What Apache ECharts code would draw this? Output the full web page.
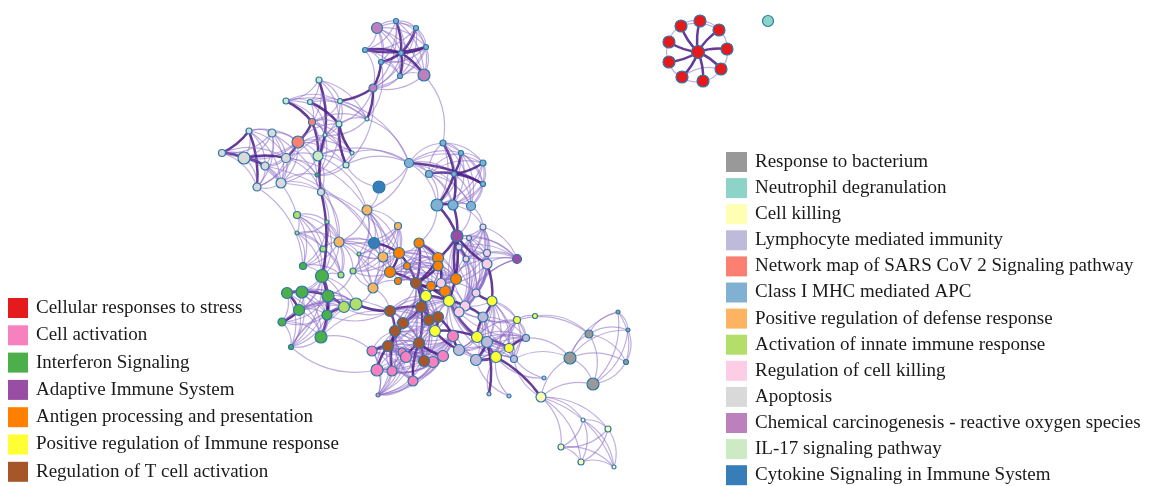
<!DOCTYPE html>
<html>
<head>
<meta charset="utf-8">
<script src="https://cdn.jsdelivr.net/npm/echarts@6/dist/echarts.min.js"></script>
<style>
  html, body { margin: 0; padding: 0; background: #fff; }
  #chart-container { width: 1154px; height: 486px; }
</style>
</head>
<body>
<div id="chart-container"></div>
<script>
// term categories (legend order) and their colours
var categoryNames = [
  "Cellular responses to stress", "Cell activation", "Interferon Signaling",
  "Adaptive Immune System", "Antigen processing and presentation",
  "Positive regulation of Immune response", "Regulation of T cell activation",
  "Response to bacterium", "Neutrophil degranulation", "Cell killing",
  "Lymphocyte mediated immunity", "Network map of SARS CoV 2 Signaling pathway",
  "Class I MHC mediated APC", "Positive regulation of defense response",
  "Activation of innate immune response", "Regulation of cell killing",
  "Apoptosis", "Chemical carcinogenesis - reactive oxygen species",
  "IL-17 signaling pathway", "Cytokine Signaling in Immune System"
];
var categoryColors = [
  "#e41a1c", "#f781bf", "#4daf4a", "#984ea3", "#ff7f00", "#ffff33", "#a65628",
  "#999999", "#8dd3c7", "#ffffb3", "#bebada", "#fb8072", "#80b1d3", "#fdb462",
  "#b3de69", "#fccde5", "#d9d9d9", "#bc80bd", "#ccebc5", "#377eb8"
];

// network terms per category: [id, layoutX, layoutY, termSize]
var stressNodes = [["r0",698,52,13],["r1",681,26,12],["r2",700,21,12],["r3",719,30,12],["r4",727,49,12],["r5",721,69,12],["r6",703,81,12],["r7",682,77,12],["r8",669,62,12],["r9",669,42,12]];
var cellActNodes = [["m0",453,336,11],["m1",372,351,10],["m2",402,352,8],["m3",406,357,11],["m4",433,362,11],["m5",443,356,11],["m6",377,370,12],["m7",392,371,10],["m8",413,381,10],["m9",378,395,4]];
var ifnNodes = [["g0",303,266,7],["g1",322,276,13],["g2",287,293,11],["g3",302,292,12],["g4",328,296,12],["g5",299,310,11],["g6",327,315,10],["g7",282,322,8],["g8",321,337,12],["g9",291,347,5],["b20",317,175,4]];
var adaptiveNodes = [["i0",457,236,12],["i1",517,259,9]];
var antigenNodes = [["h0",419,243,10],["h1",399,253,11],["h2",407,266,7],["h3",390,272,11],["h4",398,281,7],["h5",438,258,11],["h6",438,266,10],["h7",431,286,9],["h8",456,279,11],["h9",445,291,11]];
var posImmNodes = [["l0",426,296,11],["l1",449,301,11],["l2",492,301,10],["l3",435,331,11],["l4",477,337,11],["l5",496,357,11],["l6",509,348,9],["l7",517,320,7],["l8",535,316,5]];
var tCellNodes = [["k0",416,283,11],["k1",390,311,11],["k2",421,307,11],["k3",403,323,11],["k4",429,320,11],["k5",438,317,11],["k6",395,331,11],["k7",388,346,11],["k8",419,343,11],["k9",424,361,11]];
var bacteriumNodes = [["p0",570,358,12],["p1",589,334,8],["p2",618,312,4],["p3",628,330,4],["p4",626,362,5],["p5",593,384,12]];
var neutrophilNodes = [["t0",768,21,11]];
var killingNodes = [["o0",541,397,10],["o1",583,420,4],["o2",608,429,6],["o3",561,447,6],["o4",581,462,6],["o5",614,467,4]];
var lymphNodes = [["n0",483,317,10],["n1",487,342,11],["n2",459,350,11],["n3",476,360,11],["n4",514,359,7],["n5",526,338,7],["n6",544,378,4],["n7",489,394,4],["n8",509,396,4]];
var sarsNodes = [["b4",312,122,7],["b10",298,142,12]];
var mhcNodes = [["a1",396,21,5],["a2",416,28,5],["a3",426,47,5],["a4",365,50,5],["a5",401,53,5],["a6",381,62,5],["a7",400,76,5],["c0",409,163,9],["c1",429,174,7],["c2",443,143,6],["c3",461,153,5],["c4",483,163,6],["c5",454,174,5],["c6",483,184,5],["c7",437,205,12],["c8",453,205,10],["c9",471,206,9]];
var defenseNodes = [["e0",367,210,10],["e1",398,226,7],["e2",339,242,10],["e3",383,257,10],["e4",373,288,10]];
var innateNodes = [["f0",297,215,7],["f1",327,222,4],["f2",297,233,4],["f3",323,249,6],["f4",359,254,4],["f5",341,275,6],["f6",353,271,6],["f7",344,307,11],["f8",356,304,12]];
var killRegNodes = [["j0",483,227,6],["j1",469,238,5],["j2",459,247,6],["j3",466,259,6],["j4",487,253,7],["j5",487,264,10],["j6",441,283,9],["j7",476,293,8],["j8",465,306,10],["j9",459,312,10]];
var apoptosisNodes = [["b8",249,131,6],["b9",272,133,8],["b11",222,153,7],["b12",244,158,12],["b13",286,158,9],["b16",265,166,8],["b18",281,183,10],["b19",257,187,8],["b21",321,192,7]];
var chemNodes = [["a0",377,28,11],["a8",424,75,12],["a9",373,88,8]];
var il17Nodes = [["b0",319,80,6],["b1",286,101,6],["b2",310,102,5],["b3",340,101,5],["b5",339,124,6],["b6",367,119,4],["b7",325,135,4],["b14",318,156,10],["b15",352,153,4],["b17",346,165,6]];
var cytokineNodes = [["d0",379,187,12],["d1",374,243,11]];

var nodesByCategory = [
  stressNodes, cellActNodes, ifnNodes, adaptiveNodes, antigenNodes, posImmNodes,
  tCellNodes, bacteriumNodes, neutrophilNodes, killingNodes, lymphNodes, sarsNodes,
  mhcNodes, defenseNodes, innateNodes, killRegNodes, apoptosisNodes, chemNodes,
  il17Nodes, cytokineNodes
];

// groups of terms that are all similar to each other (every pair linked)
var similarGroups = [
  ["a0","a1","a2","a3","a4","a5","a6","a7","a8","a9"],
  ["b0","b1","b2","b3","b4","b5","b6","b7"],
  ["b4","b7","b10","b14","b15","b17","b5","b20"],
  ["b8","b9","b10","b11","b12","b13","b16","b18","b19"],
  ["b13","b14","b18","b21","b20","b7"],
  ["c0","c1","c2","c3","c4","c5","c6","c7","c8","c9"],
  ["f0","f1","f2","f3","e2","g0","g1","f5"],
  ["g1","g2","g3","g4","g5","g6","g7","g8","g9","f7","f8"],
  ["e0","e1","e2","e3","e4","d1","h1","h3","f4","f6"],
  ["h0","h1","h2","h3","h4","h5","h6","h7","h8","h9","k0"],
  ["k0","k1","k2","k3","k4","k5","k6","k7","k8","k9","l0","l1","l3"],
  ["m0","m1","m2","m3","m4","m5","m6","m7","m8","k6","k7","k8","k9","m9"],
  ["j0","j1","j2","j3","j4","j5","j6","j7","j8","j9","i0","i1"],
  ["l2","l4","l5","l6","l7","n0","n1","n2","n3","n4","n5","l1"],
  ["o0","o1","o2","o3","o4","o5"],
  ["p0","p1","p2","p3","p4","p5"]
];

// weaker single links
var weakLinks = [
  ["r1","r2"],["r2","r3"],["r3","r4"],["r4","r5"],["r5","r6"],["r6","r7"],["r7","r8"],["r8","r9"],["r9","r1"],["r1","r3"],["r7","r5"],
  ["a9","b3"],["a9","b5"],["a6","b6"],["a9","b17"],["a8","c2"],["b3","c0"],["b6","c0"],["b15","c0"],["b17","c0"],["b14","c0"],
  ["c0","d0"],["b21","f3"],["b21","e2"],["b21","d1"],["b16","e3"],["b18","h1"],["b13","e0"],["b12","f0"],["b19","g0"],["b9","e2"],
  ["d0","e0"],["d1","e2"],["e0","e2"],["c7","h0"],["c8","j0"],["c9","j0"],["c9","i0"],["f5","g1"],["f6","g4"],["f7","g6"],
  ["g8","k1"],["g8","m1"],["g5","k1"],["l2","l7"],["l7","l8"],["l8","p1"],["l7","p1"],["n5","p0"],["n4","p0"],["o0","p0"],["o0","p5"],
  ["n6","l5"],["n6","l6"],["n7","l5"],["n8","l5"],["n8","n3"],["o0","n4"],["m9","m6"],["m9","m1"],["m9","k7"],["j0","j4"],
  ["i1","j4"],["i1","j5"],["l0","h7"],["l1","h9"],["l1","j9"],["j6","h8"],["n2","m0"],["n2","l3"],["c0","e0"],["b14","e0"],
  ["d0","b17"],["i0","h5"],["k1","f7"],["k1","g6"],["m6","g9"],["e4","k1"],["e4","f8"],["e4","h4"]
];

// strong links (high similarity)
var strongLinks = [
  ["r0","r1"],["r0","r2"],["r0","r3"],["r0","r4"],["r0","r5"],["r0","r6"],["r0","r7"],["r0","r8"],["r0","r9"],
  ["a5","a1"],["a5","a3"],["a5","a4"],["a5","a7"],["a5","a2"],["a5","a8"],["a4","a3"],["a6","a9"],["a5","a6"],
  ["a9","b6"],["a9","b3"],["b1","b4"],["b0","b7"],["b2","b5"],["b5","b17"],["b5","b15"],["b8","b19"],["b11","b12"],
  ["b12","b16"],["b10","b13"],["b4","b14"],["b7","b21"],["b21","g1"],
  ["c5","c2"],["c5","c3"],["c5","c4"],["c5","c6"],["c5","c1"],["c0","c6"],["c5","c7"],["c5","c8"],
  ["c7","i0"],["c8","i0"],["i0","j2"],["i0","h5"],["i0","j5"],["i0","l1"],["h8","i0"],
  ["h0","k0"],["h1","k0"],["h3","k0"],["h5","k0"],["h6","k0"],["k0","l0"],["k0","k2"],["k2","k3"],["k2","l0"],
  ["k2","k8"],["k8","k9"],["k8","m3"],["k8","m5"],["k1","k2"],["k1","f8"],["g4","f7"],["g1","g4"],["g2","g3"],
  ["g3","g4"],["g1","g6"],["g4","g8"],["g2","g5"],["d1","h1"],["k0","h9"],["h9","l1"],["l1","j8"],["l1","l4"],
  ["l4","n1"],["l3","l4"],["l4","l5"],["l5","n3"],["l2","j7"],["l2","n0"],["l6","n5"],["l5","o0"],["n1","n7"],
  ["k7","m1"],["k7","m6"],["k9","m4"],["k6","m7"],["k8","m8"],["k3","k6"],["k6","k7"],["k4","k5"],["k5","l3"],
  ["l0","l1"],["k5","m0"],["l4","n0"],["j2","j3"],["h1","h3"],["h0","h5"],["k0","k4"],["k2","k4"],["l0","j6"],
  ["m0","n2"],["n1","n3"],["l4","l6"],["j8","n0"],["g5","g7"],["b11","b8"],["b12","b13"],["b10","b4"],["c7","c8"],
  ["k0","l1"],["h7","k2"],["k3","k7"],["l3","n2"],["j5","l2"],["h5","j6"],["k1","k6"],["f7","g6"]
];

var dom = document.getElementById("chart-container");
var myChart = echarts.init(dom, null, { renderer: "canvas" });

var nodeData = [];
nodesByCategory.forEach(function (list, ci) {
  list.forEach(function (n) {
    nodeData.push({ name: n[0], value: [n[1], n[2]], category: ci, symbolSize: n[3] });
  });
});

var weakStyle = { color: "#8a6cc4", width: 1.2, opacity: 0.55, curveness: 0.25 };
var strongStyle = { color: "#4f2188", width: 2.5, opacity: 0.88, curveness: 0.12 };

var linkData = [];
var seen = {};
function addLink(s, t, style) {
  var key = s < t ? s + "|" + t : t + "|" + s;
  if (seen[key]) {
    if (style === strongStyle) seen[key].lineStyle = style;
    return;
  }
  var l = { source: s, target: t, lineStyle: style };
  seen[key] = l;
  linkData.push(l);
}
similarGroups.forEach(function (g) {
  for (var i = 0; i < g.length; i++) {
    for (var j = i + 1; j < g.length; j++) addLink(g[i], g[j], weakStyle);
  }
});
weakLinks.forEach(function (p) { addLink(p[0], p[1], weakStyle); });
strongLinks.forEach(function (p) { addLink(p[0], p[1], strongStyle); });

var legendText = { fontFamily: "Liberation Serif", fontSize: 19, lineHeight: 20, color: "#1a1a1a", padding: [0, 0, 0, 3] };

var option = {
  animation: false,
  grid: { left: 0, right: 0, top: 0, bottom: 0 },
  xAxis: { type: "value", min: 0, max: 1154, show: false },
  yAxis: { type: "value", min: 0, max: 486, inverse: true, show: false },
  legend: [
    {
      data: categoryNames.slice(0, 7),
      orient: "vertical", left: 8, top: 298, height: 186, padding: 0,
      icon: "rect", itemWidth: 20, itemHeight: 20, itemGap: 7.3,
      itemStyle: { borderWidth: 0 },
      selectedMode: false, textStyle: legendText
    },
    {
      data: categoryNames.slice(7),
      orient: "vertical", left: 726, top: 152, height: 334, padding: 0,
      icon: "rect", itemWidth: 21, itemHeight: 20, itemGap: 6.1,
      itemStyle: { borderWidth: 0 },
      selectedMode: false, textStyle: legendText
    }
  ],
  series: [
    {
      type: "graph",
      coordinateSystem: "cartesian2d",
      silent: true,
      categories: categoryNames.map(function (name, i) {
        return { name: name, itemStyle: { color: categoryColors[i] } };
      }),
      itemStyle: { borderColor: "#2a78a8", borderWidth: 1.2 },
      label: { show: false },
      data: nodeData,
      links: linkData,
      z: 2
    }
  ]
};

myChart.setOption(option);
window.addEventListener("resize", myChart.resize);
</script>
</body>
</html>
